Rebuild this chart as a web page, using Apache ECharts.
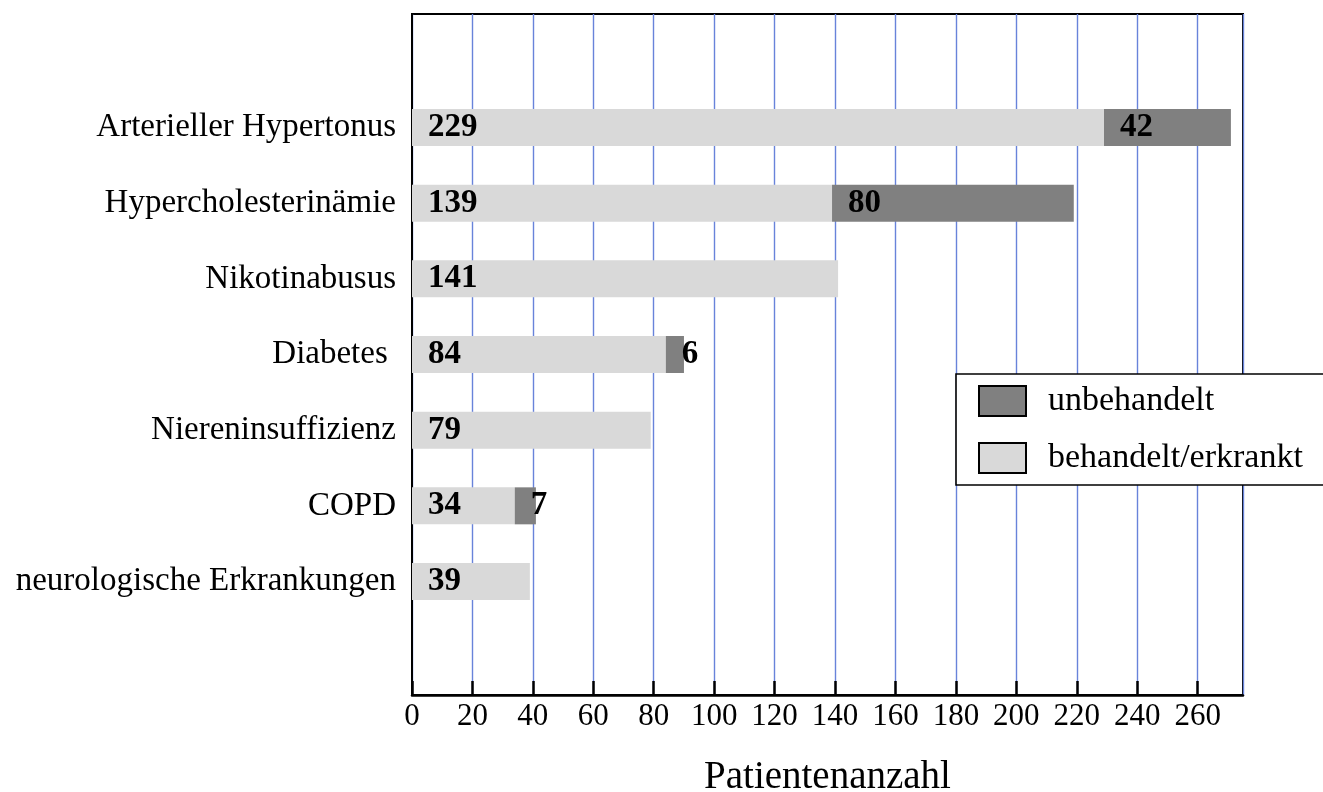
<!DOCTYPE html>
<html>
<head>
<meta charset="utf-8">
<script src="https://cdn.jsdelivr.net/npm/echarts@6/dist/echarts.min.js"></script>
<style>
html,body{margin:0;padding:0;background:#fff;}
#chart{width:1323px;height:792px;}
</style>
</head>
<body>
<div id="chart"></div>
<script>
// categories, top to bottom (blank slots give the empty space above and below)
const categories = ['', 'Arterieller Hypertonus', 'Hypercholesterinämie', 'Nikotinabusus', 'Diabetes ', 'Niereninsuffizienz', 'COPD', 'neurologische Erkrankungen', ''];
const behandelt = [null, 229, 139, 141, 84, 79, 34, 39, null];
const unbehandelt = [null, 42, 80, null, 6, null, 7, null, null];
const seriesNames = ['unbehandelt', 'behandelt/erkrankt'];
const xTicks = { min: 0, max: 275, interval: 20 };
const axisTitle = 'Patientenanzahl';

const FONT = "'Liberation Serif', 'Times New Roman', serif";
const chart = echarts.init(document.getElementById('chart'), null, { renderer: 'canvas' });

const barLabel = {
  show: true,
  position: [16, '50%'],
  align: 'left',
  verticalAlign: 'middle',
  fontFamily: FONT,
  fontWeight: 'bold',
  fontSize: 33,
  color: '#000',
  formatter: p => (p.value == null ? '' : String(p.value))
};

chart.setOption({
  animation: false,
  backgroundColor: '#fff',
  grid: {
    left: 412, right: 80, top: 14, bottom: 97,
    containLabel: false,
    outerBoundsMode: 'none',
    show: true, borderColor: '#000', borderWidth: 2, backgroundColor: 'transparent'
  },
  legend: {
    data: seriesNames,
    orient: 'vertical',
    left: 956, top: 374,
    icon: 'rect',
    itemWidth: 47, itemHeight: 30, itemGap: 23,
    padding: [10, 40, 10, 22],
    backgroundColor: '#fff',
    borderColor: '#000', borderWidth: 1.6, borderRadius: 0,
    itemStyle: { borderColor: '#000', borderWidth: 2 },
    textStyle: { fontFamily: FONT, fontSize: 34, color: '#000', padding: [0, 0, 0, 17] }
  },
  xAxis: {
    type: 'value',
    min: xTicks.min, max: xTicks.max, interval: xTicks.interval,
    name: axisTitle,
    nameLocation: 'middle',
    nameGap: 63,
    nameTextStyle: { fontFamily: FONT, fontSize: 39, color: '#000' },
    axisLine: { show: true, lineStyle: { color: '#000', width: 2.5 } },
    axisTick: { show: true, inside: true, length: 14, lineStyle: { color: '#000', width: 2.5 } },
    axisLabel: { fontFamily: FONT, fontSize: 31, color: '#000', margin: 6, showMaxLabel: false,
      formatter: v => (v % 20 === 0 ? String(v) : '') },
    splitLine: { show: true, lineStyle: { color: '#6883da', width: 1.4 } }
  },
  yAxis: {
    type: 'category',
    data: categories,
    inverse: true,
    axisLine: { show: true, lineStyle: { color: '#000', width: 2 } },
    axisTick: { show: false },
    axisLabel: { fontFamily: FONT, fontSize: 33, color: '#000', margin: 16 },
    splitLine: { show: false }
  },
  series: [
    {
      name: seriesNames[1], type: 'bar', stack: 'total',
      data: behandelt, barWidth: 37,
      itemStyle: { color: '#d9d9d9' },
      label: barLabel, z: 3
    },
    {
      name: seriesNames[0], type: 'bar', stack: 'total',
      data: unbehandelt, barWidth: 37,
      itemStyle: { color: '#808080' },
      label: barLabel, z: 3
    }
  ]
});
</script>
</body>
</html>
